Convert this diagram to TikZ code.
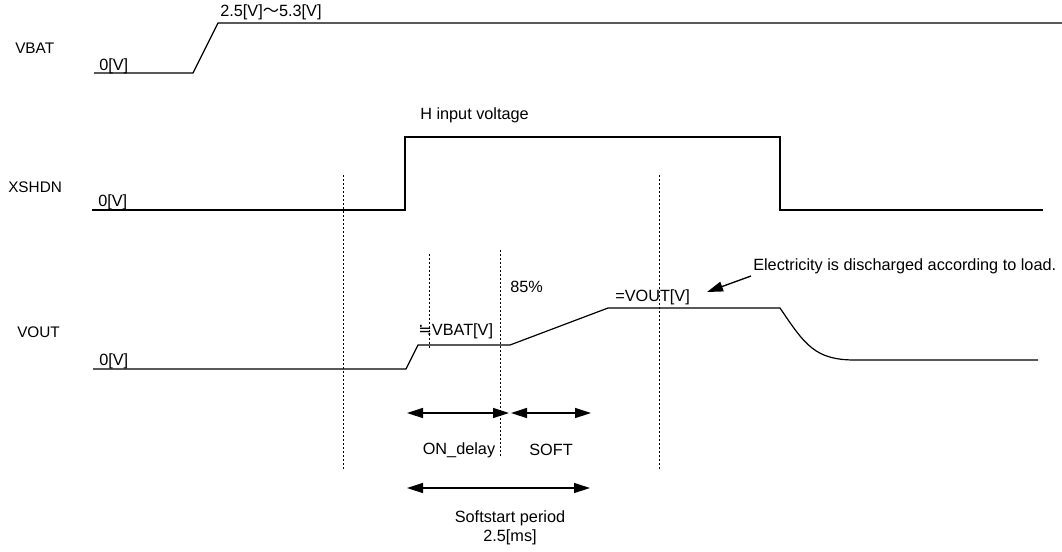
\documentclass[tikz,border=0pt]{standalone}
\usepackage{fontspec}
\setmainfont{Liberation Sans}
\newfontfamily\jpfont{Noto Sans CJK JP}
\newfontfamily\symfont{DejaVu Sans}
\usetikzlibrary{arrows.meta}
\tikzset{
	wave/.style={line width=0.9pt},
	guide/.style={line width=0.6pt, dash pattern=on 1.5pt off 1.5pt},
	span/.style={line width=1pt, {Triangle[length=12pt, width=7.5pt]}-{Triangle[length=12pt, width=7.5pt]}},
	txt/.style={inner sep=0pt, anchor=west, font=\fontsize{12.2}{14}\selectfont},
	sigtxt/.style={txt, font=\fontsize{11.5}{14}\selectfont},
}
\begin{document}
\begin{tikzpicture}[x=0.75pt, y=-0.75pt]
	\useasboundingbox (0,0) rectangle (1062,551);
	% signal names
	\node[sigtxt] (vbatname) at (15,48) {VBAT};
	\node[sigtxt] (xshdnname) at (8,187) {XSHDN};
	\node[sigtxt] (voutname) at (17,332) {VOUT};
	% VBAT
	\coordinate (b0) at (94,73);
	\coordinate (b1) at (193,73);
	\coordinate (b2) at (218,23);
	\coordinate (b3) at (1062,23);
	\draw[wave] (b0) -- (b1) -- (b2) -- (b3);
	\node[txt] (vbatlow) at (99,66) {0[V]};
	\node[txt] (vbathigh) at (220,12) {2.5[V]{\jpfont 〜}5.3[V]};
	% XSHDN
	\coordinate (x0) at (92,210);
	\coordinate (x1) at (405,210);
	\coordinate (x2) at (405,137);
	\coordinate (x3) at (780,137);
	\coordinate (x4) at (780,210);
	\coordinate (x5) at (1043,210);
	\draw[wave] (x0) -- (x1) -- (x2) -- (x3) -- (x4) -- (x5);
	\node[txt] (xshdnlow) at (98,202) {0[V]};
	\node[txt] (xshdnhigh) at (420,115) {H input voltage};
	% VOUT
	\coordinate (v0) at (93,369);
	\coordinate (v1) at (406,369);
	\coordinate (v2) at (418,345);
	\coordinate (v3) at (510,345);
	\coordinate (v4) at (608,308);
	\coordinate (v5) at (780,308);
	\coordinate (v6) at (855,360);
	\coordinate (v7) at (1038,360);
	\draw[wave] (v0) -- (v1) -- (v2) -- (v3) -- (v4) -- (v5)
		.. controls (805,345) and (815,360) .. (v6) -- (v7);
	\node[txt] (voutlow) at (99,361) {0[V]};
	\node[txt] (voutmid) at (418,331) {{\symfont ≒}VBAT[V]};
	\node[txt] (pct) at (510,287) {85\%};
	\node[txt] (vouthigh) at (615,297) {=VOUT[V]};
	\node[txt] (note) at (753,266) {Electricity is discharged according to load.};
	\coordinate (notetail) at (751,276);
	\coordinate (notetip) at (707,292);
	\draw[line width=1pt, -{Triangle[length=12pt, width=7.5pt]}] (notetail) -- (notetip);
	% guides
	\draw[guide] (343,175) -- (343,470);
	\draw[guide] (429,254) -- (429,350);
	\draw[guide] (500,250) -- (500,457);
	\draw[guide] (659,175) -- (659,470);
	% periods
	\coordinate (p0) at (407,413);
	\coordinate (p1) at (509,413);
	\coordinate (p2) at (511,413);
	\coordinate (p3) at (591,413);
	\draw[span] (p0) -- (p1);
	\draw[span] (p2) -- (p3);
	\node[txt, anchor=center] (ondelay) at (459,450) {ON\_delay};
	\node[txt, anchor=center] (soft) at (551,450) {SOFT};
	\coordinate (q0) at (407,488);
	\coordinate (q1) at (590,488);
	\draw[span] (q0) -- (q1);
	\node[txt, anchor=center] (period) at (510,518) {Softstart period};
	\node[txt, anchor=center] (periodval) at (510,537) {2.5[ms]};
\end{tikzpicture}
\end{document}
